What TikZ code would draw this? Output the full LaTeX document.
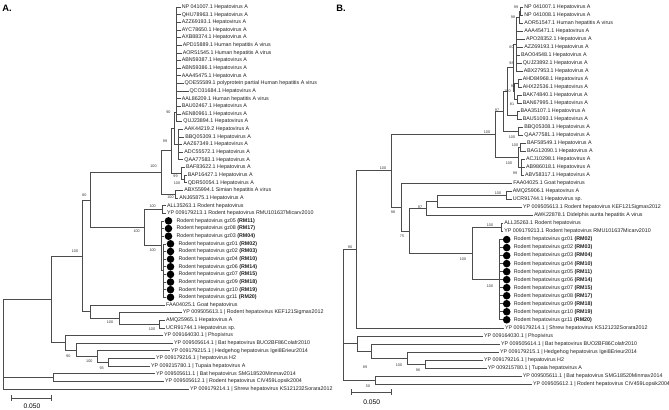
\documentclass[tikz,border=0pt]{standalone}
\usepackage{fontspec}
\setmainfont{Liberation Sans}
\newcommand\leafA[4]{\node[lbl] (#1) at (#2,{7+(#3-1)*7.64}) {#4};}
\newcommand\leafB[4]{\node[lbl] (#1) at (#2,{7+(#3-1)*8.02}) {#4};}
\newcommand\dotleafA[5]{\node[dot] (#1d) at (#2,{7+(#4-1)*7.64}) {};\node[lbl] (#1) at (#3,{7+(#4-1)*7.64}) {Rodent hepatovirus #5};}
\newcommand\dotleafB[5]{\node[dot] (#1d) at (#2,{7+(#4-1)*8.02}) {};\node[lbl] (#1) at (#3,{7+(#4-1)*8.02}) {Rodent hepatovirus #5};}
\begin{document}
\begin{tikzpicture}[x=0.75pt,y=-0.75pt,
  ln/.style={draw=black!70,line width=0.45pt},
  lbl/.style={anchor=west,inner sep=0pt,inner xsep=0.6pt,font=\fontsize{4.0}{4.2}\selectfont,text=black!88},
  bs/.style={inner sep=0pt,font=\fontsize{2.8}{3}\selectfont,text=black!80},
  dot/.style={circle,fill=black,inner sep=0pt,minimum size=5.7pt},
  ttl/.style={inner sep=0pt,anchor=west,font=\fontsize{7}{8}\selectfont\bfseries},
  sbl/.style={inner sep=0pt,font=\fontsize{5}{6}\selectfont}]
\useasboundingbox (0,0) rectangle (669,410);
\node[ttl] (titA) at (2,8) {A.};
\node[ttl] (titB) at (336,8) {B.};
% ================= PANEL A leaves
\leafA{a1}{180.7}{1}{NP 041007.1 Hepatovirus A}
\leafA{a2}{180.7}{2}{QHU78963.1 Hepatovirus A}
\leafA{a3}{180.7}{3}{AZZ69193.1 Hepatovirus A}
\leafA{a4}{180.7}{4}{AYC78650.1 Hepatovirus A}
\leafA{a5}{180.7}{5}{AXB88374.1 Hepatovirus A}
\leafA{a6}{181.7}{6}{APD15889.1 Human hepatitis A virus}
\leafA{a7}{181.7}{7}{AOR51545.1 Human hepatitis A virus}
\leafA{a8}{180.7}{8}{ABN59387.1 Hepatovirus A}
\leafA{a9}{180.7}{9}{ABN59386.1 Hepatovirus A}
\leafA{a10}{180.7}{10}{AAA45475.1 Hepatovirus A}
\leafA{a11}{183.5}{11}{QOE55589.1 polyprotein partial Human hepatitis A virus}
\leafA{a12}{188.5}{12}{QCO31684.1 Hepatovirus A}
\leafA{a13}{180.7}{13}{AAL86209.1 Human hepatitis A virus}
\leafA{a14}{180.7}{14}{BAU02467.1 Hepatovirus A}
\leafA{a15}{180.7}{15}{AEN80961.1 Hepatovirus A}
\leafA{a16}{182.3}{16}{QUJ23894.1 Hepatovirus A}
\leafA{a17}{183.3}{17}{AAK44219.2 Hepatovirus A}
\leafA{a18}{184.3}{18}{BBQ05309.1 Hepatovirus A}
\leafA{a19}{182.3}{19}{AAZ67349.1 Hepatovirus A}
\leafA{a20}{183.3}{20}{ADC55572.1 Hepatovirus A}
\leafA{a21}{183.3}{21}{QAA77583.1 Hepatovirus A}
\leafA{a22}{185}{22}{BAF83622.1 Hepatovirus A}
\leafA{a23}{186.7}{23}{BAP16427.1 Hepatovirus A}
\leafA{a24}{186.7}{24}{QDR50054.1 Hepatovirus A}
\leafA{a25}{183.3}{25}{ABX55994.1 Simian hepatitis A virus}
\leafA{a26}{178.3}{26}{ANJ65875.1 Hepatovirus A}
\leafA{a27}{166}{27}{ALL35263.1 Rodent hepatovirus}
\leafA{a28}{166}{28}{YP 009179213.1 Rodent hepatovirus RMU101637Micarv2010}
\dotleafA{a29}{168.5}{175.5}{29}{gz05 \textbf{(RM11)}}
\dotleafA{a30}{168.5}{175.5}{30}{gz08 \textbf{(RM17)}}
\dotleafA{a31}{168.5}{175.5}{31}{gz03 \textbf{(RM04)}}
\dotleafA{a32}{170.5}{177.5}{32}{gz01 \textbf{(RM02)}}
\dotleafA{a33}{170.5}{177.5}{33}{gz02 \textbf{(RM03)}}
\dotleafA{a34}{170.5}{177.5}{34}{gz04 \textbf{(RM10)}}
\dotleafA{a35}{170.5}{177.5}{35}{gz06 \textbf{(RM14)}}
\dotleafA{a36}{170.5}{177.5}{36}{gz07 \textbf{(RM15)}}
\dotleafA{a37}{170.5}{177.5}{37}{gz09 \textbf{(RM18)}}
\dotleafA{a38}{170.5}{177.5}{38}{gz10 \textbf{(RM19)}}
\dotleafA{a39}{170.5}{177.5}{39}{gz11 \textbf{(RM20)}}
\leafA{a40}{165}{40}{FAA04025.1 Goat hepatovirus}
\leafA{a41}{181.7}{41}{YP 009505613.1 | Rodent hepatovirus KEF121Sigmas2012}
\leafA{a42}{165}{42}{AMQ25965.1 Hepatovirus A}
\leafA{a43}{165}{43}{UCR91744.1 Hepatovirus sp.}
\leafA{a44}{163}{44}{YP 009164030.1 | Phopivirus}
\leafA{a45}{173}{45}{YP 009505614.1 | Bat hepatovirus BUO2BF86Colafr2010}
\leafA{a46}{170}{46}{YP 009179215.1 | Hedgehog hepatovirus Igei8Erieur2014}
\leafA{a47}{155}{47}{YP 009179216.1 | hepatovirus H2}
\leafA{a48}{150}{48}{YP 009215780.1 | Tupaia hepatovirus A}
\leafA{a49}{155}{49}{YP 009505611.1 | Bat hepatovirus SMG18520Minmav2014}
\leafA{a50}{164}{50}{YP 009505612.1 | Rodent hepatovirus CIV459Lopsik2004}
\leafA{a51}{189}{51}{YP 009179214.1 | Shrew hepatovirus KS121232Sorara2012}
% internal nodes A
\coordinate (cmA) at (176.5,112);
\coordinate (akA) at (178.3,144.52);
\coordinate (n90A) at (174.3,128.26);
\coordinate (bqA) at (183.8,178.9);
\coordinate (bfA) at (181.2,173.17);
\coordinate (n99A) at (171.7,150.72);
\coordinate (axA) at (175.3,194.18);
\coordinate (haA) at (161.7,172.45);
\coordinate (alA) at (162.5,209.46);
\coordinate (g2A) at (163.3,270.58);
\coordinate (g1A) at (161.2,245.75);
\coordinate (rdA) at (144,227.6);
\coordinate (n80A) at (90.7,200.03);
\coordinate (auA) at (159.5,324.06);
\coordinate (kaA) at (119.3,318.33);
\coordinate (gkA) at (90,311.65);
\coordinate (nhA) at (82.7,255.84);
\coordinate (p4A) at (108,362.26);
\coordinate (p3A) at (97,356.53);
\coordinate (p2A) at (76,349.85);
\coordinate (p1A) at (65,342.69);
\coordinate (qA) at (51.7,299.27);
\coordinate (scA) at (53,377.54);
\coordinate (rootA) at (3,299.27);
\foreach \i in {1,...,16} \draw[ln] (cmA) |- (a\i);
\foreach \i in {17,...,21} \draw[ln] (akA) |- (a\i);
\draw[ln] (n90A) |- (cmA) (n90A) |- (akA);
\draw[ln] (bqA) |- (a23) (bqA) |- (a24);
\draw[ln] (bfA) |- (a22) (bfA) |- (bqA);
\draw[ln] (n99A) |- (n90A) (n99A) |- (bfA);
\draw[ln] (axA) |- (a25) (axA) |- (a26);
\draw[ln] (haA) |- (n99A) (haA) |- (axA);
\draw[ln] (alA) |- (a27) (alA) |- (a28);
\foreach \i in {32,...,39} \draw[ln] (g2A) |- (a\i d);
\foreach \i in {29,30,31} \draw[ln] (g1A) |- (a\i d);
\draw[ln] (g1A) |- (g2A);
\draw[ln] (rdA) |- (alA) (rdA) |- (g1A);
\draw[ln] (n80A) |- (haA) (n80A) |- (rdA);
\draw[ln] (auA) |- (a42) (auA) |- (a43);
\draw[ln] (kaA) |- (a41) (kaA) |- (auA);
\draw[ln] (gkA) |- (a40) (gkA) |- (kaA);
\draw[ln] (nhA) |- (n80A) (nhA) |- (gkA);
\draw[ln] (p4A) |- (a47) (p4A) |- (a48);
\draw[ln] (p3A) |- (a46) (p3A) |- (p4A);
\draw[ln] (p2A) |- (a45) (p2A) |- (p3A);
\draw[ln] (p1A) |- (a44) (p1A) |- (p2A);
\draw[ln] (qA) |- (nhA) (qA) |- (p1A);
\draw[ln] (scA) |- (a49) (scA) |- (a50);
\draw[ln] (rootA) -- (qA) (rootA) |- (scA) (rootA) |- (a51);
% bootstrap A
\node[bs] (bsA1) at (168.5,112.5) {90};
\node[bs] (bsA2) at (165,141) {99};
\node[bs] (bsA3) at (153.5,166) {100};
\node[bs] (bsA4) at (175.5,176.5) {99};
\node[bs] (bsA5) at (177,183) {100};
\node[bs] (bsA6) at (170.5,197.5) {100};
\node[bs] (bsA7) at (84.3,195) {80};
\node[bs] (bsA8) at (152.7,206) {100};
\node[bs] (bsA9) at (136.7,231.7) {100};
\node[bs] (bsA10) at (152.7,250.7) {100};
\node[bs] (bsA11) at (75,251.7) {100};
\node[bs] (bsA12) at (110,322.7) {100};
\node[bs] (bsA13) at (152,329.3) {100};
\node[bs] (bsA14) at (68.3,356) {90};
\node[bs] (bsA15) at (89.3,361) {100};
\node[bs] (bsA16) at (101.7,368.3) {93};
% scale A
\coordinate (sa1) at (11.7,398);
\coordinate (sa2) at (51.5,398);
\draw[ln] (sa1) -- (sa2);
\draw[ln] ([yshift=-2pt]sa1) -- ([yshift=2pt]sa1);
\draw[ln] ([yshift=-2pt]sa2) -- ([yshift=2pt]sa2);
\node[sbl] (sal) at (32,406.5) {0.050};
% ================= PANEL B leaves
\leafB{b1}{523.3}{1}{NP 041007.1 Hepatovirus A}
\leafB{b2}{523.3}{2}{NP 041008.1 Hepatovirus A}
\leafB{b3}{523.3}{3}{AOR51547.1 Human hepatitis A virus}
\leafB{b4}{523.3}{4}{AAA45471.1 Hepatovirus A}
\leafB{b5}{525}{5}{APO28352.1 Hepatovirus A}
\leafB{b6}{523.3}{6}{AZZ69193.1 Hepatovirus A}
\leafB{b7}{520}{7}{BAO04548.1 Hepatovirus A}
\leafB{b8}{521.7}{8}{QUJ23892.1 Hepatovirus A}
\leafB{b9}{522.7}{9}{ABX27953.1 Hepatovirus A}
\leafB{b10}{521.7}{10}{AHD84968.1 Hepatovirus A}
\leafB{b11}{521.7}{11}{AHX22536.1 Hepatovirus A}
\leafB{b12}{521.7}{12}{BAK74840.1 Hepatovirus A}
\leafB{b13}{521.7}{13}{BAN67995.1 Hepatovirus A}
\leafB{b14}{519.5}{14}{BAA35107.1 Hepatovirus A}
\leafB{b15}{521.7}{15}{BAU51093.1 Hepatovirus A}
\leafB{b16}{523.3}{16}{BBQ05308.1 Hepatovirus A}
\leafB{b17}{523.3}{17}{QAA77581.1 Hepatovirus A}
\leafB{b18}{526}{18}{BAF58549.1 Hepatovirus A}
\leafB{b19}{526}{19}{BAG12090.1 Hepatovirus A}
\leafB{b20}{525}{20}{ACJ10298.1 Hepatovirus A}
\leafB{b21}{525}{21}{AB986018.1 Hepatovirus A}
\leafB{b22}{524}{22}{ABV58317.1 Hepatovirus A}
\leafB{b23}{512.3}{23}{FAA04025.1 Goat hepatovirus}
\leafB{b24}{511.7}{24}{AMQ25906.1 Hepatovirus A}
\leafB{b25}{511.7}{25}{UCR91744.1 Hepatovirus sp.}
\leafB{b26}{522}{26}{YP 009505613.1 Rodent hepatovirus KEF121Sigmas2012}
\leafB{b27}{533}{27}{AWK22878.1 Didelphis aurita hepatitis A virus}
\leafB{b28}{503.3}{28}{ALL35263.1 Rodent hepatovirus}
\leafB{b29}{503.3}{29}{YP 009179213.1 Rodent hepatovirus RMU101637Micarv2010}
\dotleafB{b30}{506.7}{512.7}{30}{gz01 \textbf{(RM02)}}
\dotleafB{b31}{506.7}{512.7}{31}{gz02 \textbf{(RM03)}}
\dotleafB{b32}{506.7}{512.7}{32}{gz03 \textbf{(RM04)}}
\dotleafB{b33}{506.7}{512.7}{33}{gz04 \textbf{(RM10)}}
\dotleafB{b34}{506.7}{512.7}{34}{gz05 \textbf{(RM11)}}
\dotleafB{b35}{506.7}{512.7}{35}{gz06 \textbf{(RM14)}}
\dotleafB{b36}{506.7}{512.7}{36}{gz07 \textbf{(RM15)}}
\dotleafB{b37}{506.7}{512.7}{37}{gz08 \textbf{(RM17)}}
\dotleafB{b38}{506.7}{512.7}{38}{gz09 \textbf{(RM18)}}
\dotleafB{b39}{506.7}{512.7}{39}{gz10 \textbf{(RM19)}}
\dotleafB{b40}{506.7}{512.7}{40}{gz11 \textbf{(RM20)}}
\leafB{b41}{504}{41}{YP 009179214.1 | Shrew hepatovirus KS121232Sorara2012}
\leafB{b42}{483}{42}{YP 009164030.1 | Phopivirus}
\leafB{b43}{500}{43}{YP 009505614.1 | Bat hepatovirus BUO2BF86Colafr2010}
\leafB{b44}{499}{44}{YP 009179215.1 | Hedgehog hepatovirus Igei8Erieur2014}
\leafB{b45}{483}{45}{YP 009179216.1 | hepatovirus H2}
\leafB{b46}{486.7}{46}{YP 009215780.1 | Tupaia hepatovirus A}
\leafB{b47}{521.7}{47}{YP 009505611.1 | Bat hepatovirus SMG18520Minmav2014}
\leafB{b48}{532}{48}{YP 009505612.1 | Rodent hepatovirus CIV459Lopsik2004}
% internal nodes B
\coordinate (naB) at (520.5,11.01);
\coordinate (nbB) at (519,17.03);
\coordinate (cB) at (516.5,44.1);
\coordinate (t2B) at (518.5,83.19);
\coordinate (t3B) at (517.5,99.23);
\coordinate (t4B) at (514.5,91.21);
\coordinate (t5B) at (513.5,67.65);
\coordinate (t6B) at (517.5,115.27);
\coordinate (uB) at (507.5,91.46);
\coordinate (bqB) at (518,131.31);
\coordinate (vB) at (503.3,111.39);
\coordinate (bgB) at (520,147.35);
\coordinate (acB) at (521.5,167.4);
\coordinate (lB) at (518,157.38);
\coordinate (hB) at (495.7,134.38);
\coordinate (auB) at (506.7,195.47);
\coordinate (kaB) at (437.3,201.49);
\coordinate (n97B) at (426.7,208.5);
\coordinate (ayB) at (501.7,227.55);
\coordinate (gzB) at (499,279.68);
\coordinate (rbB) at (472.7,253.6);
\coordinate (n75B) at (409,231.05);
\coordinate (n98B) at (401.7,207.25);
\coordinate (gB) at (391.7,170.8);
\coordinate (kB) at (356.7,249.3);
\coordinate (p4B) at (425.7,363.89);
\coordinate (p3B) at (407.3,357.88);
\coordinate (p2B) at (371.7,350.86);
\coordinate (p1B) at (357,343.34);
\coordinate (scB) at (375,379.93);
\coordinate (rootB) at (343.3,249.3);
\draw[ln] (naB) |- (b1) (naB) |- (b2);
\draw[ln] (nbB) |- (naB) (nbB) |- (b3);
\draw[ln] (cB) |- (nbB);
\foreach \i in {4,...,9} \draw[ln] (cB) |- (b\i);
\draw[ln] (t2B) |- (b10) (t2B) |- (b11);
\draw[ln] (t3B) |- (b12) (t3B) |- (b13);
\draw[ln] (t4B) |- (t2B) (t4B) |- (t3B);
\draw[ln] (t5B) |- (cB) (t5B) |- (t4B);
\draw[ln] (t6B) |- (b14) (t6B) |- (b15);
\draw[ln] (uB) |- (t5B) (uB) |- (t6B);
\draw[ln] (bqB) |- (b16) (bqB) |- (b17);
\draw[ln] (vB) |- (uB) (vB) |- (bqB);
\draw[ln] (bgB) |- (b18) (bgB) |- (b19);
\draw[ln] (acB) |- (b20) (acB) |- (b21) (acB) |- (b22);
\draw[ln] (lB) |- (bgB) (lB) |- (acB);
\draw[ln] (hB) |- (vB) (hB) |- (lB);
\draw[ln] (auB) |- (b24) (auB) |- (b25);
\draw[ln] (kaB) |- (auB) (kaB) |- (b26);
\draw[ln] (n97B) |- (kaB) (n97B) |- (b27);
\draw[ln] (ayB) |- (b28) (ayB) |- (b29);
\foreach \i in {30,...,40} \draw[ln] (gzB) |- (b\i d);
\draw[ln] (rbB) |- (ayB) (rbB) |- (gzB);
\draw[ln] (n75B) |- (n97B) (n75B) |- (rbB);
\draw[ln] (n98B) |- (b23) (n98B) |- (n75B);
\draw[ln] (gB) |- (hB) (gB) |- (n98B);
\draw[ln] (kB) |- (gB) (kB) |- (b41);
\draw[ln] (p4B) |- (b45) (p4B) |- (b46);
\draw[ln] (p3B) |- (b44) (p3B) |- (p4B);
\draw[ln] (p2B) |- (b43) (p2B) |- (p3B);
\draw[ln] (p1B) |- (b42) (p1B) |- (p2B);
\draw[ln] (scB) |- (b47) (scB) |- (b48);
\draw[ln] (rootB) -- (kB) (rootB) |- (p1B) (rootB) |- (scB);
% bootstrap B
\node[bs] (bsB1) at (516,7.5) {99};
\node[bs] (bsB2) at (513,17.5) {98};
\node[bs] (bsB3) at (511.5,47.5) {60};
\node[bs] (bsB4) at (511.5,63.5) {98};
\node[bs] (bsB5) at (507.5,91.5) {100};
\node[bs] (bsB6) at (513,86.5) {94};
\node[bs] (bsB7) at (512,104) {81};
\node[bs] (bsB8) at (497,110) {97};
\node[bs] (bsB9) at (487,132) {100};
\node[bs] (bsB10) at (512,137) {100};
\node[bs] (bsB11) at (515,145) {100};
\node[bs] (bsB12) at (509,163) {100};
\node[bs] (bsB13) at (515,173) {99};
\node[bs] (bsB14) at (383,168) {100};
\node[bs] (bsB15) at (498,193) {100};
\node[bs] (bsB16) at (420,207) {97};
\node[bs] (bsB17) at (393,212) {98};
\node[bs] (bsB18) at (490,225) {100};
\node[bs] (bsB19) at (402,236) {75};
\node[bs] (bsB20) at (350,247) {90};
\node[bs] (bsB21) at (463,259) {100};
\node[bs] (bsB22) at (490,286) {100};
\node[bs] (bsB23) at (365,367) {89};
\node[bs] (bsB24) at (399,365) {100};
\node[bs] (bsB25) at (418,370) {96};
\node[bs] (bsB26) at (368,386) {50};
% scale B
\coordinate (sb1) at (351.7,392);
\coordinate (sb2) at (391.7,392);
\draw[ln] (sb1) -- (sb2);
\draw[ln] ([yshift=-2pt]sb1) -- ([yshift=2pt]sb1);
\draw[ln] ([yshift=-2pt]sb2) -- ([yshift=2pt]sb2);
\node[sbl] (sbl) at (371.7,402) {0.050};
\end{tikzpicture}
\end{document}
